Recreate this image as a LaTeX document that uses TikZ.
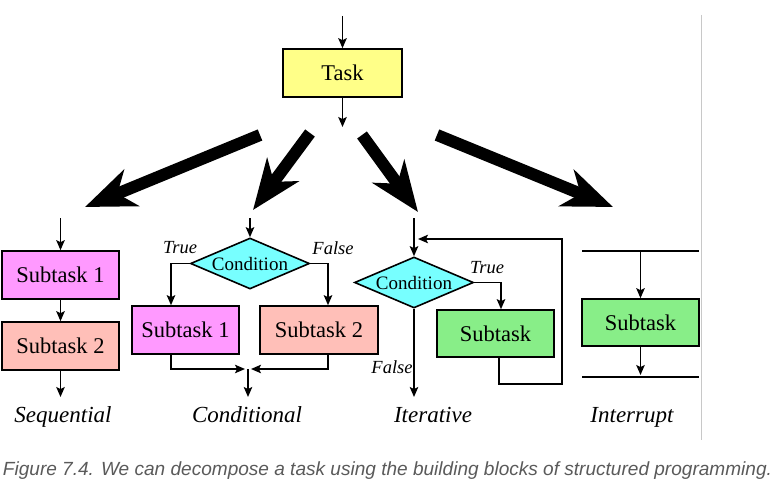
\documentclass[tikz,border=0pt]{standalone}
\usepackage{fontspec}
\setmainfont{Liberation Serif}
\newfontfamily\capfont{Liberation Sans}
\usetikzlibrary{arrows.meta,shapes.geometric}
\definecolor{taskY}{HTML}{FFFF88}
\definecolor{subA}{HTML}{FF99FF}
\definecolor{subB}{HTML}{FFBFB8}
\definecolor{condC}{HTML}{77FFFF}
\definecolor{subG}{HTML}{88EE88}
\definecolor{capgray}{HTML}{5A5A5A}
\definecolor{rulegray}{HTML}{C8C8C8}
\begin{document}
\begin{tikzpicture}[x=1pt,y=-1pt,
  boxnode/.style={draw, line width=1.6pt, inner sep=0pt, font=\fontsize{22.5}{24}\selectfont},
  dianode/.style={draw, diamond, line width=1.6pt, inner sep=0pt, fill=condC,
     minimum width=119pt, minimum height=51pt, label={[font=\fontsize{19}{20}\selectfont]center:Condition}},
  arr/.style={line width=1.5pt, -{Stealth[length=10pt,width=8.5pt,inset=2pt]}},
  bigarr/.style={line width=12pt, -{Stealth[length=50pt,width=39pt,inset=15pt]}},
  blocklabel/.style={font=\fontsize{23}{24}\selectfont\itshape, anchor=base},
  tf/.style={font=\fontsize{18.5}{20}\selectfont\itshape}]
\useasboundingbox (0,0) rectangle (777,495);

% rule at right
\draw[rulegray, line width=1pt] (701,15) -- (701,440);

% Task
\node[boxnode, fill=taskY, minimum width=119pt, minimum height=48pt] (task) at (342.5,73) {Task};
\coordinate (tin) at (342.5,16);
\coordinate (tout) at (342.5,127);
\draw[arr] (tin) -- (task.north);
\draw[arr] (task.south) -- (tout);

% big arrows
\coordinate (b1s) at (260,135); \coordinate (b1e) at (85,207);
\coordinate (b2s) at (310,133); \coordinate (b2e) at (253,210);
\coordinate (b3s) at (362,135); \coordinate (b3e) at (418,212);
\coordinate (b4s) at (437,135); \coordinate (b4e) at (613,207);
\draw[bigarr] (b1s) -- (b1e);
\draw[bigarr] (b2s) -- (b2e);
\draw[bigarr] (b3s) -- (b3e);
\draw[bigarr] (b4s) -- (b4e);

% Sequential
\node[boxnode, fill=subA, minimum width=117pt, minimum height=48pt] (s1) at (60.5,275) {Subtask 1};
\node[boxnode, fill=subB, minimum width=117pt, minimum height=48pt] (s2) at (60.5,346) {Subtask 2};
\coordinate (sin) at (60.5,218);
\coordinate (sout) at (60.5,397);
\draw[arr] (sin) -- (s1.north);
\draw[arr] (s1.south) -- (s2.north);
\draw[arr] (s2.south) -- (sout);
\node[blocklabel] (lseq) at (63,422) {Sequential};

% Conditional
\node[dianode] (cond) at (250,263.5) {};
\coordinate (cin) at (250,218);
\draw[arr] (cin) -- (cond.north);
\node[boxnode, fill=subA, minimum width=107pt, minimum height=48pt] (cs1) at (185.5,330) {Subtask 1};
\node[boxnode, fill=subB, minimum width=118pt, minimum height=48pt] (cs2) at (319,330) {Subtask 2};
\draw[arr] (cond.west) -| ([xshift=-14.5pt]cs1.north);
\draw[arr] (cond.east) -| ([xshift=9pt]cs2.north);
\coordinate (mrg) at (248,369);
\coordinate (mout) at (248,397);
\draw[arr] ([xshift=-14.5pt]cs1.south) |- ([xshift=-3pt]mrg);
\draw[arr] ([xshift=9pt]cs2.south) |- ([xshift=3pt]mrg);
\draw[arr] (mrg) -- (mout);
\node[tf] (ctrue) at (180,248) {True};
\node[tf] (cfalse) at (333,248) {False};
\node[blocklabel] (lcond) at (247,422) {Conditional};

% Iterative
\node[dianode] (idia) at (414,282.5) {};
\coordinate (iin) at (414,218);
\draw[arr] (iin) -- (idia.north);
\node[boxnode, fill=subG, minimum width=117pt, minimum height=47pt] (isub) at (495.5,333.5) {Subtask};
\draw[arr] (idia.east) -| ([xshift=5.5pt]isub.north);
\coordinate (fb1) at (562,384);
\coordinate (fb2) at (562,239);
\coordinate (fbe) at (418,239);
\draw[arr] ([xshift=3.5pt]isub.south) |- (fb1) -- (fb2) -- (fbe);
\coordinate (iout) at (414,397);
\draw[arr] (idia.south) -- (iout);
\node[tf] (itrue) at (487,268) {True};
\node[tf] (ifalse) at (392,367) {False};
\node[blocklabel] (liter) at (433,422) {Iterative};

% Interrupt
\coordinate (il1a) at (582,251); \coordinate (il1b) at (699,251);
\coordinate (il2a) at (582,377); \coordinate (il2b) at (699,377);
\draw[line width=1.6pt] (il1a) -- (il1b);
\draw[line width=1.6pt] (il2a) -- (il2b);
\node[boxnode, fill=subG, minimum width=117pt, minimum height=47pt] (intsub) at (640.5,322.5) {Subtask};
\coordinate (itop) at (640.5,251);
\coordinate (ibot) at (640.5,375);
\draw[arr] (itop) -- (intsub.north);
\draw[arr] (intsub.south) -- (ibot);
\node[blocklabel] (lint) at (632,422) {Interrupt};

% caption
\node[text=capgray, inner sep=0pt] (caption) at (387.5,471) {\resizebox{769pt}{!}{\capfont\itshape\fontsize{18}{20}\selectfont Figure 7.4. We can decompose a task using the building blocks of structured programming.}};
\end{tikzpicture}
\end{document}
